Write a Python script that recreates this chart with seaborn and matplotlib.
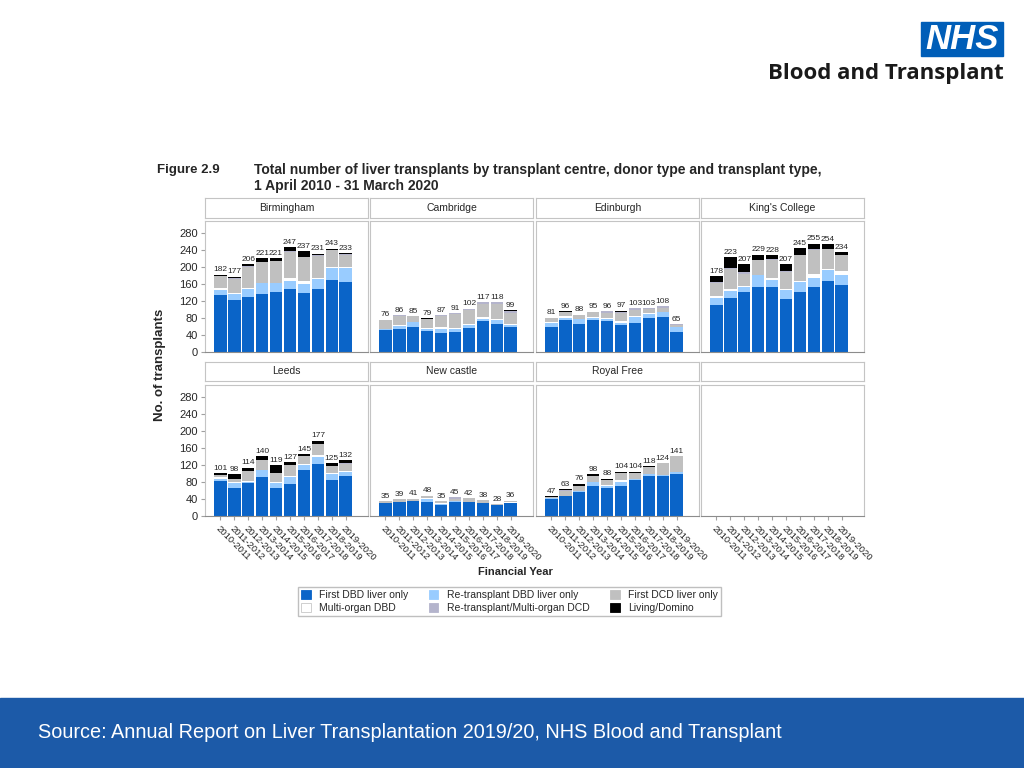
import seaborn as sns
import matplotlib.pyplot as plt
import pandas as pd
from matplotlib.patches import Patch, Rectangle
from matplotlib import font_manager

# Datos: número de trasplantes por centro, tipo y año financiero
years = ["2010-2011", "2011-2012", "2012-2013", "2013-2014", "2014-2015",
         "2015-2016", "2016-2017", "2017-2018", "2018-2019", "2019-2020"]
centres = ["Birmingham", "Cambridge", "Edinburgh", "King's College",
           "Leeds", "New castle", "Royal Free"]
types = ["First DBD liver only", "Re-transplant DBD liver only", "Multi-organ DBD",
         "First DCD liver only", "Re-transplant/Multi-organ DCD", "Living/Domino"]

first_dbd = {
    "Birmingham": [135, 123, 130, 137, 141, 149, 138, 149, 169, 165],
    "Cambridge": [52, 55, 58, 50, 44, 46, 56, 72, 66, 58],
    "Edinburgh": [59, 76, 66, 75, 72, 63, 68, 79, 83, 48],
    "King's College": [111, 128, 142, 154, 152, 125, 141, 153, 166, 157],
    "Leeds": [83, 67, 78, 92, 67, 75, 109, 123, 85, 94],
    "New castle": [30, 32, 35, 34, 25, 33, 32, 30, 25, 30],
    "Royal Free": [40, 46, 57, 71, 66, 70, 85, 93, 93, 99],
}
retx_dbd = {
    "Birmingham": [10, 13, 17, 26, 22, 17, 22, 22, 28, 32],
    "Cambridge": [3, 6, 12, 5, 11, 8, 8, 6, 9, 5],
    "Edinburgh": [9, 5, 11, 6, 6, 6, 15, 10, 10, 10],
    "King's College": [17, 16, 12, 26, 18, 20, 24, 22, 26, 24],
    "Leeds": [4, 10, 3, 17, 10, 16, 11, 16, 13, 10],
    "New castle": [0, 2, 0, 6, 3, 2, 2, 0, 0, 1],
    "Royal Free": [3, 2, 2, 8, 5, 10, 2, 5, 3, 5],
}
multi_dbd = {
    "Birmingham": [6, 3, 4, 0, 0, 9, 6, 4, 3, 2],
    "Cambridge": [0, 2, 0, 2, 4, 2, 3, 4, 2, 2],
    "Edinburgh": [2, 3, 0, 2, 2, 4, 2, 3, 1, 0],
    "King's College": [3, 4, 2, 0, 4, 4, 3, 9, 3, 9],
    "Leeds": [4, 3, 2, 0, 4, 3, 2, 5, 2, 2],
    "New castle": [0, 0, 0, 2, 2, 0, 0, 0, 0, 1],
    "Royal Free": [0, 0, 0, 2, 2, 4, 0, 0, 0, 0],
}
first_dcd = {
    "Birmingham": [27, 33, 50, 48, 51, 61, 57, 51, 39, 30],
    "Cambridge": [20, 22, 15, 20, 25, 33, 32, 30, 35, 26],
    "Edinburgh": [9, 10, 10, 10, 12, 19, 13, 8, 10, 5],
    "King's College": [32, 48, 28, 36, 43, 40, 60, 55, 47, 37],
    "Leeds": [5, 7, 23, 23, 21, 25, 18, 25, 17, 17],
    "New castle": [5, 5, 6, 6, 5, 6, 8, 7, 3, 4],
    "Royal Free": [1, 11, 12, 13, 12, 17, 13, 17, 28, 37],
}
retx_dcd = {
    "Birmingham": [1, 1, 1, 1, 1, 1, 1, 1, 1, 1],
    "Cambridge": [1, 1, 0, 0, 3, 2, 3, 5, 6, 6],
    "Edinburgh": [0, 0, 1, 2, 4, 2, 5, 3, 4, 2],
    "King's College": [2, 2, 3, 0, 1, 1, 1, 2, 1, 2],
    "Leeds": [0, 0, 0, 0, 0, 0, 0, 0, 0, 1],
    "New castle": [0, 0, 0, 0, 0, 4, 0, 1, 0, 0],
    "Royal Free": [0, 1, 0, 0, 0, 0, 0, 0, 0, 0],
}
living = {
    "Birmingham": [3, 4, 4, 9, 6, 10, 13, 4, 3, 3],
    "Cambridge": [0, 0, 0, 2, 0, 0, 0, 0, 0, 2],
    "Edinburgh": [2, 2, 0, 0, 0, 3, 0, 0, 0, 0],
    "King's College": [13, 25, 20, 13, 10, 17, 16, 14, 11, 5],
    "Leeds": [5, 11, 8, 8, 17, 8, 5, 8, 8, 8],
    "New castle": [0, 0, 0, 0, 0, 0, 0, 0, 0, 0],
    "Royal Free": [3, 3, 5, 4, 3, 3, 4, 3, 0, 0],
}
series = [first_dbd, retx_dbd, multi_dbd, first_dcd, retx_dcd, living]
colors = ["#0a64c8", "#99ccff", "#ffffff", "#c0c0c0", "#b4b4cc", "#000000"]

sns.set_style("white")
plt.rcParams["font.family"] = ["Liberation Sans", "DejaVu Sans"]

# fuente estrecha para las etiquetas de valores, si existe
installed = {f.name for f in font_manager.fontManager.ttflist}
narrow = "Liberation Sans Narrow" if "Liberation Sans Narrow" in installed else "Liberation Sans"
num_size = 7 if narrow == "Liberation Sans Narrow" else 6

W, H = 1024, 768
fig = plt.figure(figsize=(W / 100, H / 100), dpi=100)


def px_rect(x0, y0, x1, y1):
    return [x0 / W, 1 - y1 / H, (x1 - x0) / W, (y1 - y0) / H]


col_x = [(205, 368), (370, 533), (536, 699), (701, 864)]
rows = [((198, 218), (221, 352)), ((362, 381), (385, 516))]
frame_col = "#c4c4c4"

for idx in range(8):
    r, c = divmod(idx, 4)
    x0, x1 = col_x[c]
    (hy0, hy1), (py0, py1) = rows[r]
    name = centres[idx] if idx < len(centres) else ""

    # Encabezado del panel
    hax = fig.add_axes(px_rect(x0, hy0, x1, hy1))
    hax.set_xticks([])
    hax.set_yticks([])
    for s in hax.spines.values():
        s.set_color(frame_col)
        s.set_linewidth(0.8)
    hax.text(0.5, 0.5, name, ha="center", va="center", fontsize=7.5,
             transform=hax.transAxes)

    ax = fig.add_axes(px_rect(x0, py0, x1, py1))
    if name:
        rows_df = []
        for t, s in zip(types, series):
            for y, v in zip(years, s[name]):
                rows_df.append({"year": y, "type": t, "value": v})
        df = pd.DataFrame(rows_df)
        df["cum"] = df.groupby("year", sort=False)["value"].cumsum()
        # Barras apiladas: dibujar acumulados de arriba hacia abajo
        for t, col in reversed(list(zip(types, colors))):
            sub = df[df["type"] == t]
            sns.barplot(data=sub, x="year", y="cum", order=years, color=col,
                        saturation=1, width=0.9, linewidth=0, errorbar=None, ax=ax)
        totals = df.groupby("year", sort=False)["value"].sum()
        for i, y in enumerate(years):
            ax.text(i, totals[y] + 3, str(totals[y]), ha="center", va="bottom",
                    fontsize=num_size, family=narrow)
    ax.set_xlim(-1.1, 10.6)
    ax.set_ylim(0, 308)
    ax.set_xlabel("")
    ax.set_ylabel("")
    for s in ax.spines.values():
        s.set_color(frame_col)
        s.set_linewidth(0.8)
    ax.spines["bottom"].set_color("#8c8c8c")
    ax.set_xticks(range(len(years)))
    if r == 1:
        ax.set_xticklabels(years, rotation=-45, ha="left", va="top",
                           rotation_mode="anchor", fontsize=6.8)
        ax.tick_params(axis="x", length=3, color="#a0a0a0", pad=3, bottom=True)
    else:
        ax.set_xticklabels([])
        ax.tick_params(axis="x", length=0)
    ax.set_yticks(range(0, 281, 40))
    if c == 0:
        ax.tick_params(axis="y", length=3, color="#a0a0a0", labelsize=8, pad=2,
                       left=True)
    else:
        ax.set_yticklabels([])
        ax.tick_params(axis="y", length=0)

# Títulos y etiquetas
fig.text(157 / W, 1 - 170 / H, "Figure 2.9", fontsize=9.5, fontweight="bold",
         va="center")
fig.text(254 / W, 1 - 170 / H,
         "Total number of liver transplants by transplant centre, donor type and transplant type,",
         fontsize=10, fontweight="bold", va="center")
fig.text(254 / W, 1 - 186 / H, "1 April 2010 - 31 March 2020", fontsize=10,
         fontweight="bold", va="center")
fig.text(160 / W, 1 - 365 / H, "No. of transplants", fontsize=9.5,
         fontweight="bold", rotation=90, ha="center", va="center")
fig.text(515 / W, 1 - 572 / H, "Financial Year", fontsize=8, fontweight="bold",
         ha="center", va="center")

# Leyenda
order = [0, 2, 1, 4, 3, 5]
handles = [Patch(facecolor=colors[i], edgecolor="#c8c8c8" if i == 2 else colors[i],
                 linewidth=0.6) for i in order]
labels = [types[i] for i in order]
fig.legend(handles, labels, ncol=3, loc="center",
           bbox_to_anchor=(509.5 / W, 1 - 601.5 / H), frameon=True, fancybox=False,
           edgecolor="#b0b0b0", fontsize=7.5, handlelength=0.9, handleheight=0.9,
           handletextpad=0.8, columnspacing=2.0, borderpad=0.35, labelspacing=0.25)

# Logotipo NHS
fig.add_artist(Rectangle((921 / W, 1 - 56 / H), 82 / W, 34 / H,
                         transform=fig.transFigure, color="#005eb8"))
fig.text(962 / W, 1 - 39.5 / H, "NHS", color="white", fontsize=25,
         fontweight="bold", style="italic", ha="center", va="center")
fig.text(1004 / W, 1 - 74 / H, "Blood and Transplant", fontsize=16,
         fontweight="bold", ha="right", va="center", family=["Open Sans", "DejaVu Sans"],
         color="#1a1a1a")

# Pie de página
fig.add_artist(Rectangle((0, 0), 1, 70 / H, transform=fig.transFigure,
                         color="#1c5aa8"))
fig.text(38 / W, 1 - 732 / H,
         "Source: Annual Report on Liver Transplantation 2019/20, NHS Blood and Transplant",
         color="white", fontsize=14.3, va="center")

fig.savefig("out.png", dpi=100)
